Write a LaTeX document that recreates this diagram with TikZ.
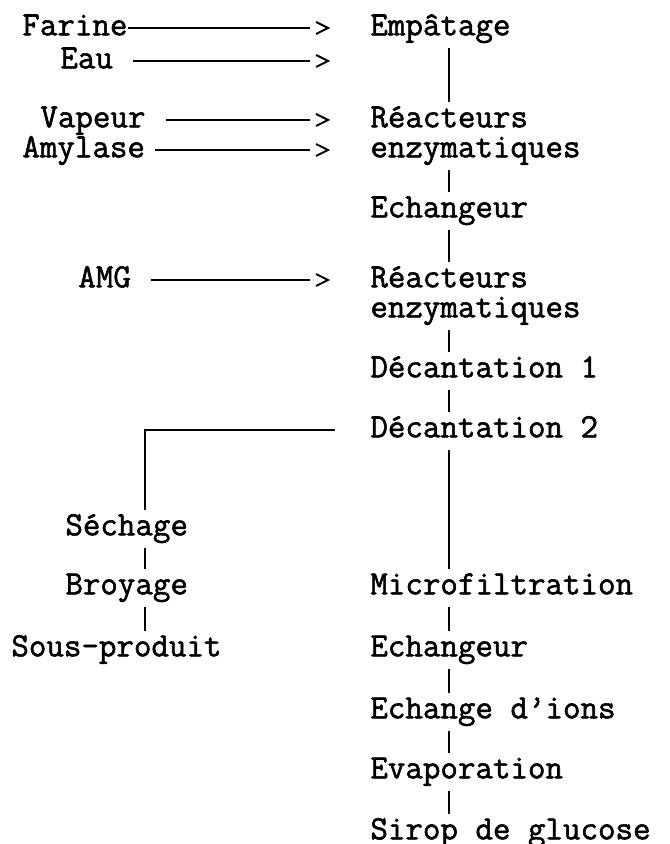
\documentclass[tikz,border=0pt]{standalone}
\usepackage{fontspec}
\newfontfamily\typer{Latin Modern Mono}[FakeBold=1.6]

\begin{document}
\begin{tikzpicture}[x=0.5pt,y=-0.5pt,
  stage/.style={anchor=west,inner sep=0pt,text height=10.4pt,text depth=3.1pt,
    font=\typer\fontsize{17}{20}\selectfont},
  feed/.style={line width=1pt,shorten >=9pt},
  barb/.style={line width=1pt,line join=miter},
  gap/.style={shorten <=#1},
  link/.style={line width=0.9pt,shorten <=3pt,shorten >=2pt}]
\useasboundingbox (0,0) rectangle (669,844);
\coordinate (tip) at (328,0);
\coordinate (axis) at (449,0);
\coordinate (bend) at (145,0);
% inputs
\node[stage] (farine) at (22,28) {Farine};
\node[stage] (eau) at (60,61) {Eau};
\node[stage] (vapeur) at (40,120) {Vapeur};
\node[stage] (amylase) at (22,150) {Amylase};
\node[stage] (amg) at (78,280) {AMG};
% main line
\node[stage] (empat) at (370,28) {Empâtage};
\node[stage] (reacA) at (370,120) {Réacteurs};
\node[stage] (enzA) at (370,150) {enzymatiques};
\node[stage] (echA) at (370,210) {Echangeur};
\node[stage] (reacB) at (370,280) {Réacteurs};
\node[stage] (enzB) at (370,310) {enzymatiques};
\node[stage] (decA) at (370,370) {Décantation 1};
\node[stage] (decB) at (370,430) {Décantation 2};
\node[stage] (microf) at (370,587) {Microfiltration};
\node[stage] (echB) at (370,649) {Echangeur};
\node[stage] (ions) at (370,711) {Echange d’ions};
\node[stage] (evap) at (370,771) {Evaporation};
\node[stage] (sirop) at (370,832) {Sirop de glucose};
% by-product
\node[stage] (sechage) at (65,528) {Séchage};
\node[stage] (broyage) at (65,587) {Broyage};
\node[stage] (sousprod) at (11,649) {Sous-produit};
% feeds
\draw[feed] (farine.east) -- (farine.east -| tip);
\draw[feed,gap=10pt] (eau.east) -- (eau.east -| tip);
\draw[feed,gap=10pt] (vapeur.east) -- (vapeur.east -| tip);
\draw[feed,gap=5pt] (amylase.east) -- (amylase.east -| tip);
\draw[feed,gap=10pt] (amg.east) -- (amg.east -| tip);
\draw[barb] (farine.east -| tip) ++(-6pt,3pt) -- ++(6pt,-3pt) -- ++(-6pt,-3pt);
\draw[barb] (eau.east -| tip) ++(-6pt,3pt) -- ++(6pt,-3pt) -- ++(-6pt,-3pt);
\draw[barb] (vapeur.east -| tip) ++(-6pt,3pt) -- ++(6pt,-3pt) -- ++(-6pt,-3pt);
\draw[barb] (amylase.east -| tip) ++(-6pt,3pt) -- ++(6pt,-3pt) -- ++(-6pt,-3pt);
\draw[barb] (amg.east -| tip) ++(-6pt,3pt) -- ++(6pt,-3pt) -- ++(-6pt,-3pt);
% process line
\draw[link] (empat.south -| axis) -- (reacA.north -| axis);
\draw[link] (enzA.south -| axis) -- (echA.north -| axis);
\draw[link] (echA.south -| axis) -- (reacB.north -| axis);
\draw[link] (enzB.south -| axis) -- (decA.north -| axis);
\draw[link] (decA.south -| axis) -- (decB.north -| axis);
\draw[link] (decB.south -| axis) -- (microf.north -| axis);
\draw[link] (microf.south -| axis) -- (echB.north -| axis);
\draw[link] (echB.south -| axis) -- (ions.north -| axis);
\draw[link] (ions.south -| axis) -- (evap.north -| axis);
\draw[link] (evap.south -| axis) -- (sirop.north -| axis);
\draw[link,shorten <=17.5pt] (decB.west) -- (decB.west -| bend) -- (sechage.north -| bend);
\draw[link] (sechage.south -| bend) -- (broyage.north -| bend);
\draw[link] (broyage.south -| bend) -- (sousprod.north -| bend);
\end{tikzpicture}
\end{document}
